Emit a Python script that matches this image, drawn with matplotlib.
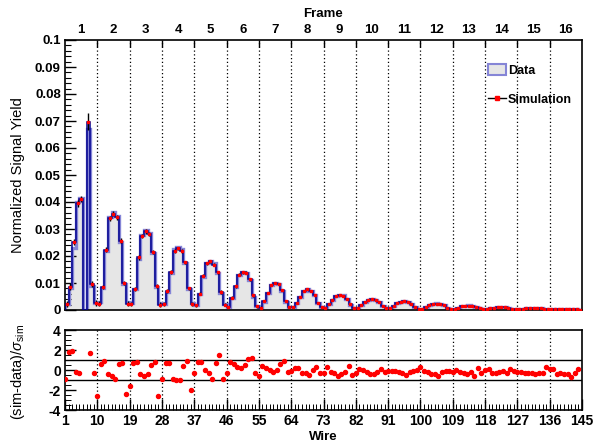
import numpy as np
import matplotlib
matplotlib.use('Agg')
import matplotlib.pyplot as plt
from matplotlib.patches import Patch
from matplotlib.lines import Line2D
from matplotlib.ticker import FixedLocator, MultipleLocator

plt.rcParams['font.family'] = ['Liberation Sans', 'DejaVu Sans']
plt.rcParams['mathtext.fontset'] = 'custom'
plt.rcParams['mathtext.rm'] = 'Liberation Sans'
plt.rcParams['mathtext.it'] = 'Liberation Sans:italic'
plt.rcParams['mathtext.bf'] = 'Liberation Sans:bold'

# ---------------- data ----------------
n_wires = 144
wires_per_frame = 9
frame_labels = [str(k) for k in range(1, 17)]
wire_tick_values = [1, 10, 19, 28, 37, 46, 55, 64, 73, 82, 91, 100, 109, 118, 127, 136, 145]
yield_tick_values = [0, 0.01, 0.02, 0.03, 0.04, 0.05, 0.06, 0.07, 0.08, 0.09, 0.1]
yield_tick_labels = ["0", "0.01", "0.02", "0.03", "0.04", "0.05", "0.06", "0.07", "0.08", "0.09", "0.1"]
resid_tick_values = [-4, -2, 0, 2, 4]

data_yield = [
    0.0022, 0.0080, 0.0230, 0.0400, 0.0415, 0.0000, 0.0670, 0.0090, 0.0027,
    0.0028, 0.0082, 0.0218, 0.0343, 0.0362, 0.0350, 0.0251, 0.0097, 0.0028,
    0.0025, 0.0077, 0.0190, 0.0279, 0.0295, 0.0284, 0.0211, 0.0086, 0.0025,
    0.0024, 0.0068, 0.0138, 0.0225, 0.0234, 0.0225, 0.0173, 0.0077, 0.0025,
    0.0019, 0.0058, 0.0123, 0.0173, 0.0183, 0.0173, 0.0136, 0.0062, 0.0021,
    0.0012, 0.0043, 0.0086, 0.0130, 0.0140, 0.0136, 0.0110, 0.0050, 0.0015,
    0.0010, 0.0031, 0.0062, 0.0093, 0.0101, 0.0096, 0.0072, 0.0031, 0.0010,
    0.0010, 0.0025, 0.0049, 0.0072, 0.0077, 0.0072, 0.0056, 0.0025, 0.0010,
    0.0009, 0.0021, 0.0038, 0.0053, 0.0057, 0.0054, 0.0042, 0.0020, 0.0008,
    0.0008, 0.0018, 0.0030, 0.0038, 0.0040, 0.0038, 0.0030, 0.0015, 0.0006,
    0.0006, 0.0014, 0.0025, 0.0031, 0.0032, 0.0031, 0.0024, 0.0012, 0.0005,
    0.0005, 0.0011, 0.0019, 0.0024, 0.0025, 0.0024, 0.0018, 0.0009, 0.0004,
    0.0004, 0.0008, 0.0013, 0.0016, 0.0017, 0.0016, 0.0012, 0.0006, 0.0003,
    0.0003, 0.0006, 0.0009, 0.0012, 0.0012, 0.0012, 0.0009, 0.0005, 0.0002,
    0.0002, 0.0004, 0.0007, 0.0009, 0.0009, 0.0009, 0.0007, 0.0004, 0.0002,
    0.0002, 0.0003, 0.0004, 0.0005, 0.0005, 0.0005, 0.0004, 0.0003, 0.0001,
]

sim_yield = [
    0.0023, 0.0087, 0.0252, 0.0395, 0.0412, 0.0000, 0.0698, 0.0097, 0.0026,
    0.0023, 0.0085, 0.0224, 0.0340, 0.0357, 0.0343, 0.0256, 0.0100, 0.0023,
    0.0021, 0.0079, 0.0195, 0.0275, 0.0291, 0.0281, 0.0216, 0.0089, 0.0020,
    0.0021, 0.0070, 0.0142, 0.0219, 0.0228, 0.0219, 0.0176, 0.0080, 0.0021,
    0.0018, 0.0061, 0.0127, 0.0173, 0.0181, 0.0168, 0.0139, 0.0067, 0.0019,
    0.0011, 0.0046, 0.0088, 0.0131, 0.0140, 0.0138, 0.0114, 0.0054, 0.0014,
    0.0009, 0.0032, 0.0063, 0.0093, 0.0100, 0.0096, 0.0074, 0.0034, 0.0010,
    0.0010, 0.0026, 0.0050, 0.0071, 0.0076, 0.0071, 0.0056, 0.0026, 0.0010,
    0.0009, 0.0022, 0.0038, 0.0052, 0.0056, 0.0053, 0.0042, 0.0021, 0.0008,
    0.0008, 0.0018, 0.0030, 0.0038, 0.0039, 0.0037, 0.0030, 0.0015, 0.0006,
    0.0006, 0.0014, 0.0025, 0.0031, 0.0032, 0.0030, 0.0024, 0.0012, 0.0005,
    0.0005, 0.0011, 0.0019, 0.0023, 0.0024, 0.0023, 0.0018, 0.0009, 0.0004,
    0.0004, 0.0008, 0.0013, 0.0016, 0.0016, 0.0016, 0.0011, 0.0006, 0.0003,
    0.0003, 0.0006, 0.0009, 0.0012, 0.0012, 0.0012, 0.0009, 0.0005, 0.0002,
    0.0002, 0.0004, 0.0007, 0.0009, 0.0009, 0.0009, 0.0007, 0.0004, 0.0002,
    0.0002, 0.0003, 0.0004, 0.0005, 0.0005, 0.0005, 0.0004, 0.0003, 0.0001,
]

# simulation uncertainty read per frame (frame 1 .. 16), plus the large one on wire 7
sim_err_by_frame = [0.0012, 0.0009, 0.0008, 0.0007, 0.0006, 0.0005, 0.0004, 0.0003,
                    0.00025, 0.0002, 0.00015, 0.00012, 0.0001, 0.00008, 0.00006, 0.00005]
sim_err_wire7 = 0.0030

nan = float('nan')
residual = [
    -0.93, 1.83, 1.93, -0.17, -0.33, nan, nan, 1.67, -0.27,
    -2.6, 0.57, 0.9, -0.4, -0.57, -0.9, 0.57, 0.67, -2.4,
    -1.6, 0.67, 0.8, -0.4, -0.57, -0.4, 0.5, 0.8, -2.6,
    -0.9, 0.67, 0.67, -0.9, -1.0, -1.0, 0.4, 0.93, -2.0,
    -0.33, 0.83, 0.8, 0.0, -0.33, -0.9, 0.67, 1.5, -0.9,
    -0.33, 0.8, 0.57, 0.33, 0.17, 0.47, 1.13, 1.23, -0.33,
    -0.57, 0.37, 0.2, 0.0, -0.23, 0.0, 0.57, 0.9, -0.17,
    -0.1, 0.23, 0.17, -0.33, -0.33, -0.5, 0.0, 0.33, -0.33,
    -0.33, 0.27, -0.17, -0.33, -0.6, -0.4, -0.17, 0.43, -0.5,
    -0.27, 0.1, 0.0, -0.23, -0.43, -0.4, -0.17, 0.07, -0.17,
    -0.1, -0.07, -0.13, -0.23, -0.33, -0.5, -0.17, -0.1, 0.0,
    0.33, -0.07, -0.17, -0.4, -0.4, -0.57, -0.17, -0.1, -0.1,
    -0.17, 0.0, -0.23, -0.33, -0.43, -0.23, -0.57, 0.17, -0.33,
    0.0, 0.1, -0.27, -0.27, -0.23, -0.1, -0.27, 0.1, -0.1,
    -0.17, -0.23, -0.33, -0.33, -0.33, -0.43, -0.27, -0.27, 0.27,
    0.1, 0.07, -0.43, -0.33, -0.43, -0.43, -0.67, -0.33, 0.1,
]

# ---------------- derived ----------------
wires = np.arange(1, n_wires + 1)
edges = np.arange(1, n_wires + 2)
centers = wires + 0.5
data_arr = np.array(data_yield)
sim_arr = np.array(sim_yield)
sim_err = np.repeat(sim_err_by_frame, wires_per_frame)
sim_err[6] = sim_err_wire7
res_arr = np.array(residual)
frame_bounds = wire_tick_values[1:-1]
frame_centers = [wire_tick_values[i] + wires_per_frame / 2 for i in range(16)]

# ---------------- figure ----------------
W, H = 603, 443
fig = plt.figure(figsize=(W / 100, H / 100), dpi=100)
L, R = 65, 582
ax1 = fig.add_axes([L / W, (H - 310) / H, (R - L) / W, 270 / H])
ax2 = fig.add_axes([L / W, (H - 410) / H, (R - L) / W, 80 / H])

data_fill = '#e6e6e6'
data_edge = '#8585d6'
sim_line = '#00008f'

# main panel
ax1.stairs(data_arr, edges, fill=True, color=data_fill, zorder=1)
ax1.stairs(data_arr, edges, color=data_edge, lw=2.4, zorder=2)
ax1.stairs(sim_arr, edges, color=sim_line, lw=1.1, zorder=3)
mask = sim_arr > 0
ax1.errorbar(centers[mask], sim_arr[mask], yerr=sim_err[mask], fmt='none',
             ecolor='black', elinewidth=1.0, zorder=4)
ax1.plot(centers[mask], sim_arr[mask], ls='none', marker='s', ms=1.9,
         mfc='red', mec='red', zorder=5)
for b in frame_bounds:
    ax1.axvline(b, color='black', ls=(0, (1, 2)), lw=0.9, zorder=0.5)

ax1.set_xlim(1, 145)
ax1.set_ylim(0, 0.1)
ax1.yaxis.set_major_locator(FixedLocator(yield_tick_values))
ax1.set_yticklabels(yield_tick_labels)
ax1.yaxis.set_minor_locator(MultipleLocator(0.002))
ax1.tick_params(axis='y', which='major', direction='in', length=8, width=1,
                labelsize=9.5, right=False, pad=3)
ax1.tick_params(axis='y', which='minor', direction='in', length=4, width=0.8, right=False)
for t in ax1.get_yticklabels():
    t.set_fontweight('bold')

# top frame axis
ax1.xaxis.set_major_locator(FixedLocator(frame_bounds))
ax1.xaxis.set_minor_locator(FixedLocator(frame_centers))
ax1.xaxis.set_major_formatter(plt.NullFormatter())
ax1.xaxis.set_minor_formatter(plt.FixedFormatter(frame_labels))
ax1.tick_params(axis='x', which='major', direction='in', length=5, width=1,
                top=True, bottom=False, labeltop=False, labelbottom=False)
ax1.tick_params(axis='x', which='minor', direction='in', length=0,
                top=True, bottom=False, labeltop=True, labelbottom=False,
                labelsize=9.5, pad=3)
for t in ax1.xaxis.get_minorticklabels():
    t.set_fontweight('bold')
for s in ax1.spines.values():
    s.set_linewidth(1.2)

# legend
handles = [Patch(facecolor=data_fill, edgecolor=data_edge, lw=1.5),
           Line2D([0], [0], color='black', lw=1, marker='s', ms=3.5, mfc='red', mec='red')]
ax1.legend(handles, ['Data', 'Simulation'], loc='upper left',
           bbox_to_anchor=((488 - L) / (R - L), (310 - 64) / 270), frameon=False,
           borderpad=0, borderaxespad=0, handlelength=1.4, handleheight=1.0,
           handletextpad=0.2, labelspacing=1.3,
           prop={'weight': 'bold', 'size': 9})

# residual panel
ax2.plot(wires, res_arr, ls='none', marker='o', ms=2.9, mfc='red', mec='red', zorder=4)
ax2.axhline(1, color='black', lw=1.0)
ax2.axhline(-1, color='black', lw=1.0)
for b in frame_bounds:
    ax2.axvline(b, color='black', ls=(0, (1, 2)), lw=0.9, zorder=0.5)
ax2.set_xlim(1, 145)
ax2.set_ylim(-4, 4)
ax2.xaxis.set_major_locator(FixedLocator(wire_tick_values))
ax2.set_xticklabels([str(v) for v in wire_tick_values])
ax2.xaxis.set_minor_locator(MultipleLocator(1))
ax2.yaxis.set_major_locator(FixedLocator(resid_tick_values))
ax2.set_yticklabels([str(v) for v in resid_tick_values])
ax2.yaxis.set_minor_locator(MultipleLocator(0.5))
ax2.tick_params(axis='both', which='major', direction='in', length=8, width=1,
                labelsize=10, top=False, right=False, pad=3)
ax2.tick_params(axis='both', which='minor', direction='in', length=4, width=0.7,
                top=False, right=False)
for t in ax2.get_xticklabels() + ax2.get_yticklabels():
    t.set_fontweight('bold')
for s in ax2.spines.values():
    s.set_linewidth(1.2)

# titles
fig.text((L + R) / 2 / W, 1 - 14 / H, 'Frame', ha='center', va='center',
         fontsize=9.5, fontweight='bold')
fig.text((L + R) / 2 / W, 1 - 437 / H, 'Wire', ha='center', va='center',
         fontsize=9.5, fontweight='bold')
fig.text(18 / W, 1 - 175 / H, 'Normalized Signal Yield', rotation=90,
         ha='center', va='center', fontsize=10.5)
fig.text(18 / W, 1 - 372 / H, r'(sim-data)/$\sigma_{\rm sim}$', rotation=90,
         ha='center', va='center', fontsize=10.5)

fig.savefig('out.png', dpi=100)
